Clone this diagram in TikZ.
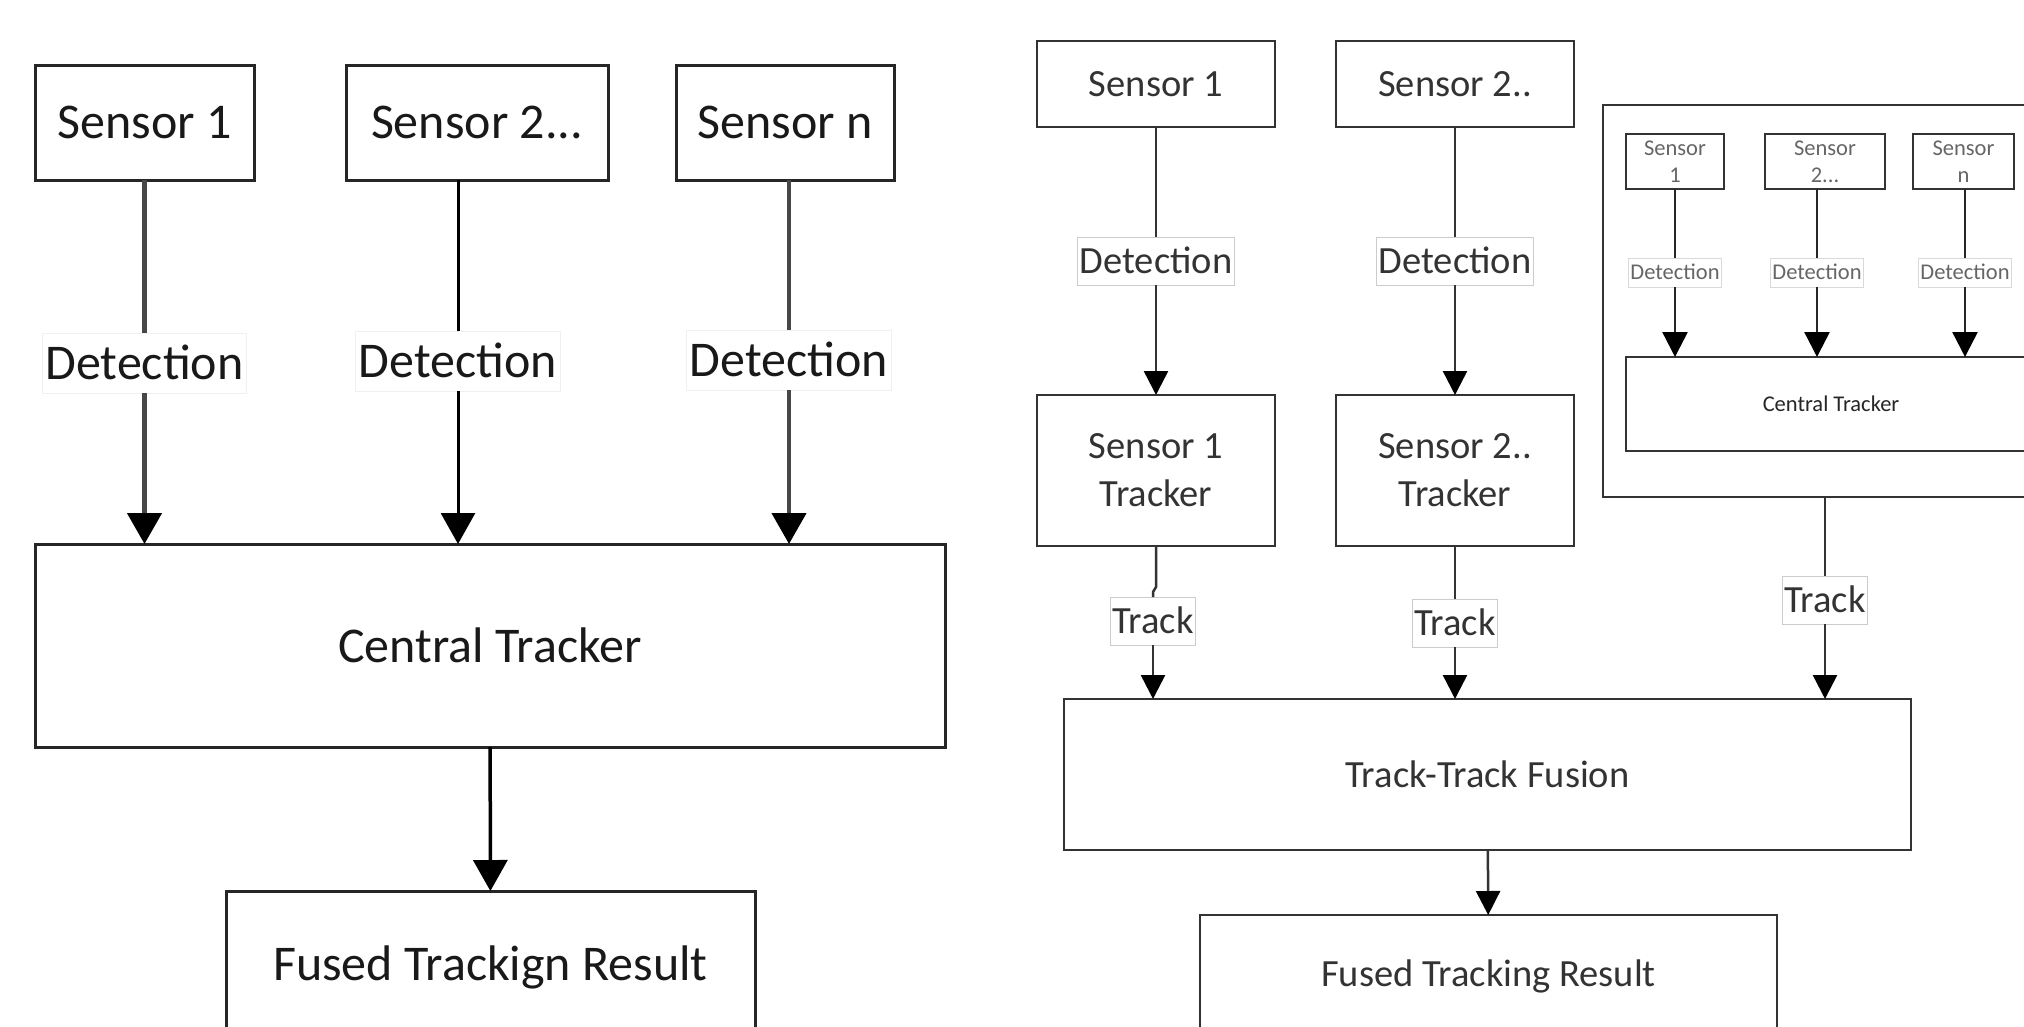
\documentclass[tikz,border=0pt]{standalone}
\usepackage{fontspec}
\setmainfont{Carlito}
\usetikzlibrary{arrows.meta}

\tikzset{
  every node/.style={inner sep=0pt, outer sep=0pt},
  % centralised tracking (left)
  bigbox/.style={draw=black!85, line width=3pt, fill=white, text=black!90,
    font=\fontsize{50}{60}\selectfont},
  bigtag/.style={fill=white, draw=black!6, line width=1pt, text=black!90,
    font=\fontsize{50}{60}\selectfont, inner xsep=3pt,
    text height=46pt, text depth=14pt},
  bigline/.style={line width=4.5pt, draw=black!72},
  bigarrow/.style={bigline, -{Triangle[width=34pt,length=31pt,color=black]}},
  % decentralised tracking (right)
  midbox/.style={draw=black!80, line width=2.5pt, fill=white, text=black!80,
    font=\fontsize{38.5}{48}\selectfont, align=center},
  midtag/.style={fill=white, draw=black!20, line width=1pt, text=black!80,
    font=\fontsize{38.5}{48}\selectfont, inner xsep=2pt,
    text height=36pt, text depth=12pt},
  midline/.style={line width=2.5pt, draw=black!80},
  midarrow/.style={midline, -{Triangle[width=24pt,length=24pt,color=black]}},
  % nested central tracker
  smallbox/.style={draw=black!80, line width=2pt, fill=white, text=black!60,
    font=\fontsize{22.5}{27}\selectfont, align=center},
  smalltag/.style={fill=white, draw=black!15, line width=0.8pt, text=black!60,
    font=\fontsize{22.5}{27}\selectfont, inner xsep=2pt,
    text height=21.5pt, text depth=7.5pt},
  smallline/.style={line width=2.5pt, draw=black!85},
  smallarrow/.style={smallline, -{Triangle[width=25pt,length=25pt,color=black]}},
}

\begin{document}
\begin{tikzpicture}[x=1pt,y=-1pt]
\path[use as bounding box] (0,0) rectangle (2024,1026);
\clip (0,0) rectangle (2024,1026);

% ---------------- centralised tracking ----------------
\node[bigbox, minimum width=219pt, minimum height=115pt] (L1) at (144.5,122.5) {Sensor 1};
\node[bigbox, minimum width=262pt, minimum height=115pt] (L2) at (477,122.5) {Sensor 2...};
\node[bigbox, minimum width=218pt, minimum height=115pt] (Ln) at (785,122.5) {Sensor n};
\node[bigbox, minimum width=910pt, minimum height=203pt] (LC) at (490,645.5) {Central Tracker};
\node[bigbox, minimum width=529pt, minimum height=144pt, text depth=0pt] (LF) at (490.5,963) {Fused Trackign Result};

\node[bigtag] (LD1) at (144.5,363) {Detection};
\node[bigtag] (LD2) at (458,361) {Detection};
\node[bigtag] (LDn) at (789,360) {Detection};

\draw[bigline] (L1) -- (LD1);
\draw[bigarrow] (LD1) -- (LC.north -| LD1);
\draw[bigline, line width=3pt, draw=black] (L2.south -| LD2) -- (LD2);
\draw[bigarrow, line width=3pt, draw=black] (LD2) -- (LC.north -| LD2);
\draw[bigline] (Ln.south -| LDn) -- (LDn);
\draw[bigarrow] (LDn) -- (LC.north -| LDn);
\draw[bigarrow, line width=3.5pt, draw=black] (LC) -- (LF);

% ---------------- decentralised tracking ----------------
\node[midbox, minimum width=238pt, minimum height=86pt] (R1) at (1156,84) {Sensor 1};
\node[midbox, minimum width=238pt, minimum height=86pt] (R2) at (1455,84) {Sensor 2..};
\node[midtag] (RD1) at (1156,261) {Detection};
\node[midtag] (RD2) at (1455,261) {Detection};
\node[midbox, minimum width=238pt, minimum height=151pt] (RT1) at (1156,470.5) {Sensor 1\\Tracker};
\node[midbox, minimum width=238pt, minimum height=151pt] (RT2) at (1455,470.5) {Sensor 2..\\Tracker};
\node[midtag] (RK1) at (1153,621) {Track};
\node[midtag] (RK2) at (1455,623) {Track};
\node[midtag] (RK3) at (1825,600) {Track};
\node[midbox, minimum width=847pt, minimum height=151pt] (RF) at (1487.5,774.5) {Track-Track Fusion};
\node[midbox, minimum width=577pt, minimum height=116pt, text depth=0pt] (RR) at (1488.5,973) {Fused Tracking Result};

% nested central tracker
\node[draw=black!80, line width=2.5pt, fill=white, minimum width=457pt, minimum height=392pt] (RO) at (1831.5,301) {};
\node[smallbox, minimum width=98pt, minimum height=55pt] (I1) at (1675,161.5) {Sensor\\1};
\node[smallbox, minimum width=120pt, minimum height=55pt] (I2) at (1825,161.5) {Sensor\\2...};
\node[smallbox, minimum width=101pt, minimum height=55pt] (In) at (1963.5,161.5) {Sensor\\n};
\node[smalltag] (ID1) at (1675,272.5) {Detection};
\node[smalltag] (ID2) at (1817,272.5) {Detection};
\node[smalltag] (IDn) at (1965,272.5) {Detection};
\node[smallbox, text=black!85, minimum width=410pt, minimum height=94pt] (IC) at (1831,404) {Central Tracker};

\draw[smallline] (I1) -- (ID1);
\draw[smallarrow] (ID1) -- (IC.north -| ID1);
\draw[smallline] (I2.south -| ID2) -- (ID2);
\draw[smallarrow] (ID2) -- (IC.north -| ID2);
\draw[smallline] (In.south -| IDn) -- (IDn);
\draw[smallarrow] (IDn) -- (IC.north -| IDn);

% connectors
\draw[midline] (R1) -- (RD1);
\draw[midarrow] (RD1) -- (RT1);
\draw[midline] (R2) -- (RD2);
\draw[midarrow] (RD2) -- (RT2);
\draw[midline] (RT1.south) -- ++(0,41) -- ++(-3,5) -- (RK1.north);
\draw[midarrow] (RK1) -- (RF.north -| RK1);
\draw[midline] (RT2) -- (RK2);
\draw[midarrow] (RK2) -- (RF.north -| RK2);
\draw[midline] (RO.south -| RK3) -- (RK3);
\draw[midarrow] (RK3) -- (RF.north -| RK3);
\draw[midarrow] (RF) -- (RR);
\end{tikzpicture}
\end{document}
